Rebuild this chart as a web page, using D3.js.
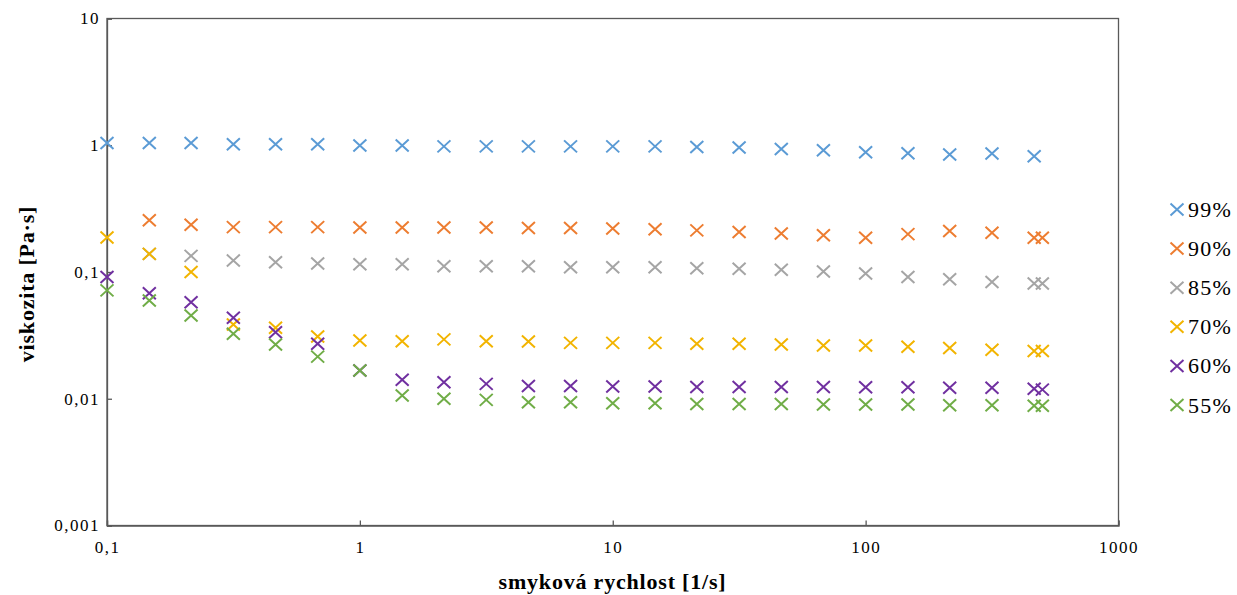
<!DOCTYPE html>
<html><head><meta charset="utf-8">
<script src="https://cdn.jsdelivr.net/npm/d3@7"></script>
<style>
html,body{margin:0;padding:0;background:#fff;}
text{font-family:"Liberation Serif","Times New Roman",serif;fill:#000;}
</style></head>
<body>
<svg id="c" width="1237" height="595"></svg>
<script>
const shearRates = [0.1,0.147,0.215,0.316,0.464,0.681,1,1.47,2.15,3.16,4.64,6.81,10,14.7,21.5,31.6,46.4,68.1,100,147,215,316,464,500];
const seriesNames = ["99%","90%","85%","70%","60%","55%"];
const seriesColors = ["#5B9BD5","#ED7D31","#A5A5A5","#F2B400","#7030A0","#70AD47"];
const v99 = [1.04,1.04,1.04,1.02,1.02,1.02,0.995,0.995,0.98,0.98,0.98,0.98,0.98,0.98,0.97,0.96,0.935,0.913,0.88,0.865,0.845,0.86,0.82,null];
const v90 = [null,0.256,0.236,0.226,0.226,0.226,0.224,0.224,0.224,0.224,0.222,0.222,0.220,0.217,0.213,0.207,0.201,0.195,0.186,0.199,0.211,0.204,0.186,0.186];
const v85 = [null,0.139,0.134,0.123,0.1195,0.1165,0.115,0.115,0.111,0.111,0.111,0.109,0.109,0.109,0.107,0.106,0.104,0.101,0.0975,0.0914,0.0875,0.0833,0.081,0.081];
const v70 = [0.187,0.139,0.1,0.0386,0.0363,0.031,0.0288,0.0284,0.0294,0.0284,0.0283,0.0276,0.0276,0.0276,0.0272,0.0272,0.0268,0.0263,0.0263,0.0257,0.0251,0.0244,0.0238,0.0238];
const v60 = [0.0912,0.0681,0.0578,0.0435,0.0335,0.0272,0.0167,0.0141,0.0135,0.0131,0.0126,0.0126,0.0125,0.0125,0.0124,0.0124,0.0124,0.0124,0.0123,0.0123,0.0122,0.0122,0.012,0.0118];
const v55 = [0.0716,0.0597,0.0454,0.0326,0.0268,0.0215,0.0167,0.0106,0.0100,0.0098,0.0094,0.0094,0.0092,0.0092,0.0091,0.0091,0.0091,0.009,0.009,0.009,0.0089,0.0089,0.0088,0.0088];
const xTicks = [0.1,1,10,100,1000];
const xTickLabels = ["0,1","1","10","100","1000"];
const yTicks = [0.001,0.01,0.1,1,10];
const yTickLabels = ["0,001","0,01","0,1","1","10"];
const xTitle = "smyková rychlost [1/s]";
const yTitle = "viskozita [Pa·s]";

const seriesValues = [v99,v90,v85,v70,v60,v55];
const svg = d3.select("#c");
const L=107, R=1118.5, T=18.5, B=525.5;
const x = d3.scaleLog().domain([0.1,1000]).range([L,R]);
const y = d3.scaleLog().domain([0.001,10]).range([B,T]);
const axisColor = "#595959";

// plot border
svg.append("rect").attr("x",L).attr("y",T).attr("width",R-L).attr("height",B-T)
  .attr("fill","none").attr("stroke",axisColor).attr("stroke-width",1.3);

// x axis
const gx = svg.append("g").attr("transform",`translate(0,${B})`)
  .call(d3.axisBottom(x).tickValues(xTicks).tickSize(-5).tickFormat((d,i)=>xTickLabels[i]).tickPadding(15));
gx.select(".domain").attr("stroke",axisColor).attr("stroke-width",1.3);
gx.selectAll(".tick line").attr("stroke",axisColor).attr("stroke-width",1.3);
gx.selectAll(".tick text").attr("font-size",17).attr("letter-spacing","1.5px")
  .style("font-family",'"Liberation Serif",serif').attr("fill","#000");

// y axis
const gy = svg.append("g").attr("transform",`translate(${L},0)`)
  .call(d3.axisLeft(y).tickValues(yTicks).tickSize(-5).tickFormat((d,i)=>yTickLabels[i]).tickPadding(7));
gy.select(".domain").attr("stroke",axisColor).attr("stroke-width",1.3);
gy.selectAll(".tick line").attr("stroke",axisColor).attr("stroke-width",1.3);
gy.selectAll(".tick text").attr("font-size",17).attr("letter-spacing","1.5px")
  .style("font-family",'"Liberation Serif",serif').attr("fill","#000");

// axis titles
svg.append("text").attr("x",612.5).attr("y",589).attr("text-anchor","middle")
  .attr("font-size",22).attr("font-weight","bold").attr("letter-spacing","0.8px").text(xTitle);
svg.append("text").attr("transform",`translate(34,${(T+B)/2+12}) rotate(-90)`).attr("text-anchor","middle")
  .attr("font-size",22).attr("font-weight","bold").attr("letter-spacing","0.8px").text(yTitle);

// markers
const hw=6.5, hh=6;
function cross(g, cx, cy, color){
  g.append("path").attr("d",`M${cx-hw},${cy-hh}L${cx+hw},${cy+hh}M${cx-hw},${cy+hh}L${cx+hw},${cy-hh}`)
   .attr("stroke",color).attr("stroke-width",2).attr("fill","none");
}
seriesValues.forEach((vals,si)=>{
  const g = svg.append("g");
  vals.forEach((v,i)=>{ if(v!=null) cross(g, x(shearRates[i]), y(v), seriesColors[si]); });
});

// legend
seriesNames.forEach((n,i)=>{
  const cy = 209.5 + i*39.1;
  const g = svg.append("g");
  cross(g, 1177, cy, seriesColors[i]);
  g.append("text").attr("x",1188).attr("y",cy+7.5).attr("font-size",22).attr("letter-spacing","1.2px").text(n);
});
</script>
</body></html>
